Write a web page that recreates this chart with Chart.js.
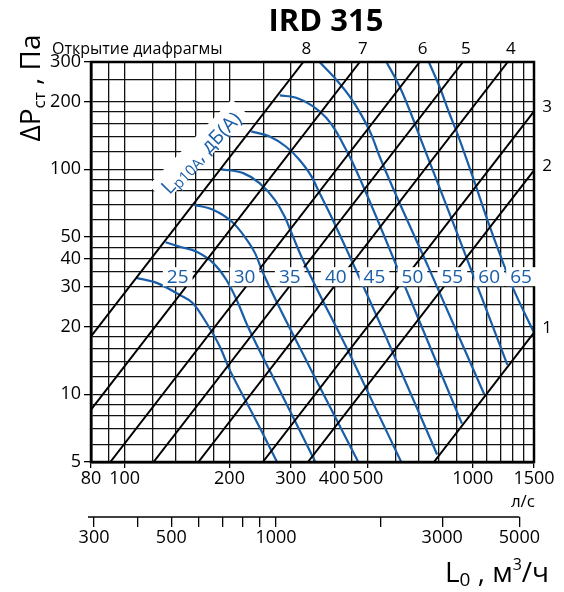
<!DOCTYPE html>
<html>
<head>
<meta charset="utf-8">
<script src="https://cdn.jsdelivr.net/npm/chart.js@4.4.1/dist/chart.umd.min.js"></script>
<style>
  html, body { margin: 0; padding: 0; background: #fff; }
  #wrap { width: 564px; height: 592px; }
</style>
</head>
<body>
<div id="wrap"><canvas id="chart" width="564" height="592"></canvas></div>
<script>
const FONT = '"Open Sans", "DejaVu Sans", sans-serif';
const BLUE = '#1a5ea8';

// grid and tick values
const flowGrid = [80, 90, 100, 120, 140, 160, 180, 200, 250, 300, 350, 400, 450, 500, 600, 700, 800, 900, 1000, 1100, 1200, 1300, 1400, 1500];
const flowLabels = [80, 100, 200, 300, 400, 500, 1000, 1500];
const pressureGrid = [5, 6, 7, 8, 9, 10, 12, 14, 16, 18, 20, 25, 30, 35, 40, 45, 50, 60, 70, 80, 90, 100, 120, 140, 160, 180, 200, 250, 300];
const pressureLabels = [5, 10, 20, 30, 40, 50, 100, 200, 300];
const hourGrid = [300, 400, 500, 600, 700, 800, 900, 1000, 2000, 3000, 5000];
const hourLabels = [300, 500, 1000, 3000, 5000];

// damper opening lines (endpoints, л/с and Па)
const openings = ['1', '2', '3', '4', '5', '6', '7', '8'];
const openingFlow = [[773.6, 1500], [336, 1500], [249.3, 1500], [162.8, 1260.9], [121, 937.6], [90.9, 704], [80, 473.8], [80, 326]];
const openingPressure = [[5, 18.8], [5, 99], [5, 181], [5, 300], [5, 300], [5, 300], [8.55, 300], [18.07, 300]];

// sound level curves Lp10A, дБ(А)
const levels = [25, 30, 35, 40, 45, 50, 55, 60, 65];
const levelFlow = [
  [108, 124, 144, 157, 172, 188, 200, 224, 248, 274],
  [131, 144, 161, 180, 196, 210, 224, 279, 353],
  [158.5, 180, 203, 221, 237, 250, 340, 469],
  [190, 219, 244, 270, 288, 304.5, 322, 443, 623],
  [231, 261, 291, 318, 344, 363, 388, 558, 790],
  [279, 311, 347, 380, 405, 428, 452, 658, 931],
  [363, 405, 443, 478, 511, 540, 750, 1079],
  [565, 616, 658, 695, 914, 1258],
  [748, 802, 856, 905, 999, 1102, 1204, 1300, 1500]
];
const levelPressure = [
  [32.9, 31.2, 27.6, 25.4, 20.7, 16.2, 12.9, 9.2, 6.8, 5],
  [47.4, 45.3, 43, 38.2, 32.2, 26.2, 20.6, 10.4, 5],
  [69.5, 66, 58.6, 50.2, 42.3, 34.5, 13.2, 5],
  [100, 96.2, 86.9, 73.2, 61.7, 50.2, 40.9, 15.1, 5],
  [147.5, 140, 126, 110, 93, 78.4, 63.8, 18.6, 5.4],
  [213, 208, 191, 169, 147.5, 126, 107, 27, 7.4],
  [300, 251, 211, 175, 143, 114, 36, 10],
  [300, 234, 184, 147.5, 49.3, 13.5],
  [300, 234, 178, 143, 93, 59.6, 40.9, 30.1, 18.8]
];
const levelLabelFlow = [142, 221, 298, 404, 522, 671, 874, 1115, 1377];
const levelLabelPressure = 33.5;

const datasets = [];
openings.forEach((name, i) => {
  datasets.push({
    label: name,
    data: openingFlow[i].map((q, j) => ({ x: q, y: openingPressure[i][j] })),
    borderColor: '#000',
    borderWidth: 2,
    pointRadius: 0,
    tension: 0,
  });
});
levels.forEach((lvl, i) => {
  datasets.push({
    label: String(lvl),
    data: levelFlow[i].map((q, j) => ({ x: q, y: levelPressure[i][j] })),
    borderColor: BLUE,
    borderWidth: 2.2,
    pointRadius: 0,
    cubicInterpolationMode: 'monotone',
  });
});

const font = (size, weight) => `${weight || ''} ${size}px ${FONT}`;

// draws a run of [text, size, dy] pieces, centered at 0
const drawRun = (ctx, parts) => {
  let total = 0;
  parts.forEach((p) => {
    ctx.font = font(p[1]);
    p.w = ctx.measureText(p[0]).width;
    total += p.w;
  });
  let cx = -total / 2;
  parts.forEach((p) => {
    ctx.font = font(p[1]);
    ctx.fillText(p[0], cx, p[2]);
    cx += p.w;
  });
  return total;
};

const decor = {
  id: 'decor',
  beforeDatasetsDraw(chart) {
    const { ctx, scales: { x, y } } = chart;
    // rotated curve family label, under the lines
    ctx.save();
    ctx.translate(x.getPixelForValue(165.6), y.getPixelForValue(118.5));
    ctx.rotate(-0.8);
    ctx.textAlign = 'left';
    ctx.textBaseline = 'alphabetic';
    ctx.fillStyle = '#fff';
    ctx.fillRect(-60, -15, 120, 24);
    ctx.fillStyle = BLUE;
    drawRun(ctx, [['L', 20, 7], ['p10A', 15, 10], [', дБ(А)', 20, 7]]);
    ctx.restore();
  },
  afterDatasetsDraw(chart) {
    const { ctx, chartArea: a, scales: { x, y, x2 } } = chart;
    ctx.save();

    // frame
    ctx.strokeStyle = '#000';
    ctx.lineWidth = 2.5;
    ctx.strokeRect(a.left, a.top, a.right - a.left, a.bottom - a.top);

    // level labels on white boxes
    ctx.font = font(19);
    ctx.textAlign = 'center';
    ctx.textBaseline = 'middle';
    levels.forEach((lvl, i) => {
      const px = x.getPixelForValue(levelLabelFlow[i]);
      const py = y.getPixelForValue(levelLabelPressure);
      const w = ctx.measureText(String(lvl)).width + 8;
      ctx.fillStyle = '#fff';
      ctx.fillRect(px - w / 2, py - 9, w, 19);
      ctx.fillStyle = BLUE;
      ctx.fillText(String(lvl), px, py + 1);
    });

    // opening numbers
    ctx.fillStyle = '#000';
    ctx.font = font(17);
    ctx.textAlign = 'center';
    ctx.textBaseline = 'middle';
    openings.forEach((name, i) => {
      const endQ = openingFlow[i][1];
      const endP = openingPressure[i][1];
      if (endP >= 300) {
        ctx.fillText(name, x.getPixelForValue(endQ) + 3, a.top - 13);
      } else {
        ctx.fillText(name, a.right + 13, y.getPixelForValue(endP) - 4);
      }
    });

    // title and captions
    ctx.font = font(31, 'bold');
    ctx.fillText('IRD 315', 326, 22);
    ctx.font = font(16);
    ctx.textAlign = 'left';
    ctx.textBaseline = 'alphabetic';
    ctx.fillText('Открытие диафрагмы', 52, 54);
    ctx.font = font(17);
    ctx.textAlign = 'right';
    ctx.fillText('л/с', 535, 507);

    // second axis line
    ctx.lineWidth = 1.5;
    ctx.beginPath();
    ctx.moveTo(a.left - 3, x2.top);
    ctx.lineTo(x2.getPixelForValue(5000), x2.top);
    ctx.stroke();

    // L0 , м3/ч
    ctx.save();
    ctx.translate(497, 582);
    ctx.textAlign = 'left';
    drawRun(ctx, [['L', 28, 0], ['0', 19, 4], [' , м', 28, 0], ['3', 16, -12], ['/ч', 28, 0]]);
    ctx.restore();

    // ΔPст , Па
    ctx.save();
    ctx.translate(40, 88);
    ctx.rotate(-Math.PI / 2);
    ctx.textAlign = 'left';
    drawRun(ctx, [['ΔP', 28, 0], ['ст', 17, 5], [' , Па', 28, 0]]);
    ctx.restore();

    ctx.restore();
  },
};

const hideUnlabeled = (list) => (c) => (list.includes(c.tick.value) ? '#000' : 'rgba(0,0,0,0)');

new Chart(document.getElementById('chart'), {
  type: 'line',
  data: { datasets },
  options: {
    responsive: false,
    animation: false,
    devicePixelRatio: 1,
    layout: { padding: { left: 0, right: 30, top: 62, bottom: 0 } },
    plugins: { legend: { display: false }, tooltip: { enabled: false } },
    scales: {
      x: {
        type: 'logarithmic',
        position: 'bottom',
        min: 80,
        max: 1500,
        afterBuildTicks: (s) => { s.ticks = flowGrid.map((v) => ({ value: v })); },
        afterFit: (s) => { s.height = 55; },
        ticks: {
          autoSkip: false,
          maxRotation: 0,
          padding: 0,
          color: '#000',
          font: { family: FONT, size: 18 },
          callback: (v) => (flowLabels.includes(v) ? String(v) : ''),
        },
        grid: { color: '#111', lineWidth: 1.3, tickLength: 6, tickColor: hideUnlabeled(flowLabels) },
        border: { color: '#000', width: 2.5 },
      },
      x2: {
        type: 'logarithmic',
        position: 'bottom',
        min: 294,
        max: 5507,
        afterBuildTicks: (s) => { s.ticks = hourGrid.map((v) => ({ value: v })); },
        afterFit: (s) => { s.height = 75; },
        ticks: {
          autoSkip: false,
          maxRotation: 0,
          padding: 0,
          color: '#000',
          font: { family: FONT, size: 18 },
          callback: (v) => (hourLabels.includes(v) ? String(v) : ''),
        },
        grid: { drawOnChartArea: false, color: '#000', lineWidth: 1.3, tickLength: 10 },
        border: { display: false },
      },
      y: {
        type: 'logarithmic',
        position: 'left',
        min: 5,
        max: 300,
        afterBuildTicks: (s) => { s.ticks = pressureGrid.map((v) => ({ value: v })); },
        afterFit: (s) => { s.width = 91; },
        ticks: {
          autoSkip: false,
          padding: 3,
          color: '#000',
          font: { family: FONT, size: 18 },
          callback: (v) => (pressureLabels.includes(v) ? String(v) : ''),
        },
        grid: { color: '#111', lineWidth: 1.3, tickLength: 7, tickColor: hideUnlabeled(pressureLabels) },
        border: { color: '#000', width: 2.5 },
      },
    },
  },
  plugins: [decor],
});
</script>
</body>
</html>
